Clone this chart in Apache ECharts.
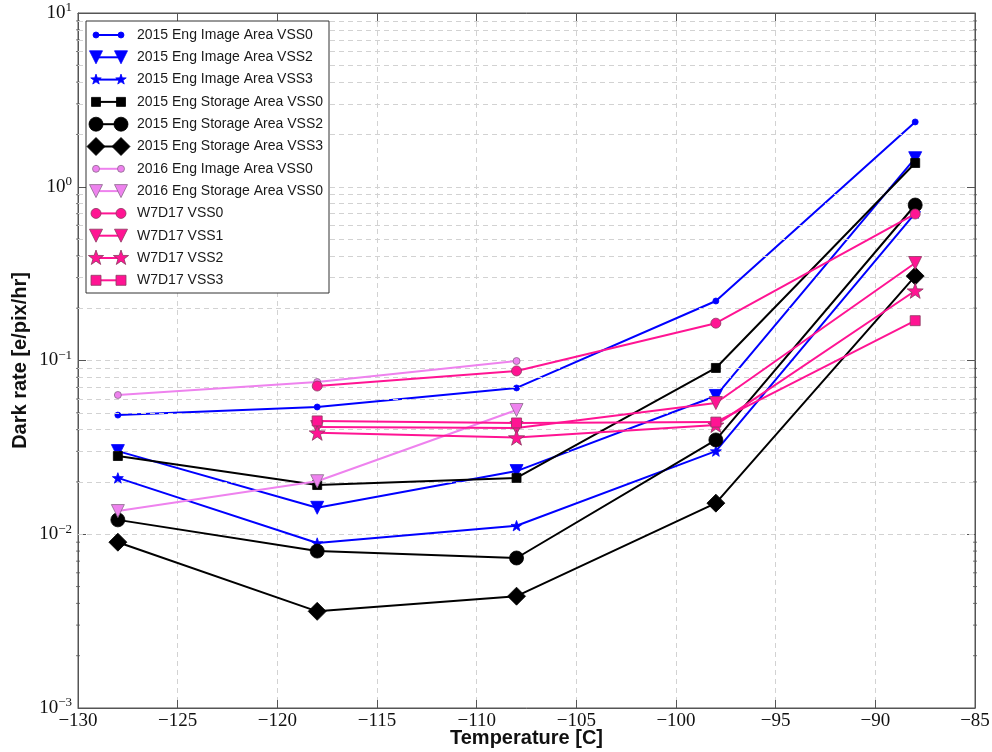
<!DOCTYPE html>
<html>
<head>
<meta charset="utf-8">
<script src="https://cdn.jsdelivr.net/npm/echarts@6/dist/echarts.min.js"></script>
<style>html,body{margin:0;padding:0;background:#fff}#main{width:992px;height:752px}</style>
</head>
<body>
<div id="main"></div>
<script>
// temperatures [C]
const temps = [-128, -118, -108, -98, -88];

// dark rate [e/pix/hr], null where not measured
const img15vss0 = [0.0485, 0.054, 0.0695, 0.22, 2.36];
const img15vss2 = [0.0301, 0.0142, 0.0231, 0.0625, 1.46];
const img15vss3 = [0.0211, 0.0089, 0.0112, 0.0301, 0.706];
const sto15vss0 = [0.0282, 0.0192, 0.0211, 0.0906, 1.37];
const sto15vss2 = [0.0121, 0.0080, 0.0073, 0.0349, 0.785];
const sto15vss3 = [0.0090, 0.0036, 0.0044, 0.0151, 0.306];
const img16vss0 = [0.0633, 0.0752, 0.0993, null, null];
const sto16vss0 = [0.0136, 0.0202, 0.0519, null, null];
const w7vss0 = [null, 0.0713, 0.0871, 0.164, 0.697];
const w7vss1 = [null, 0.0414, 0.0409, 0.0569, 0.364];
const w7vss2 = [null, 0.0384, 0.0360, 0.0426, 0.252];
const w7vss3 = [null, 0.0449, 0.0437, 0.0442, 0.1695];

const seriesNames = [
  '2015 Eng Image Area VSS0', '2015 Eng Image Area VSS2', '2015 Eng Image Area VSS3',
  '2015 Eng Storage Area VSS0', '2015 Eng Storage Area VSS2', '2015 Eng Storage Area VSS3',
  '2016 Eng Image Area VSS0', '2016 Eng Storage Area VSS0',
  'W7D17 VSS0', 'W7D17 VSS1', 'W7D17 VSS2', 'W7D17 VSS3'
];
const seriesValues = [img15vss0, img15vss2, img15vss3, sto15vss0, sto15vss2, sto15vss3,
  img16vss0, sto16vss0, w7vss0, w7vss1, w7vss2, w7vss3];

// axis ranges and minor log ticks
const xMin = -130, xMax = -85, xStep = 5;
const yMin = 0.001, yMax = 10;
const yMinor = [0.002, 0.003, 0.004, 0.005, 0.006, 0.007, 0.008, 0.009,
  0.02, 0.03, 0.04, 0.05, 0.06, 0.07, 0.08, 0.09,
  0.2, 0.3, 0.4, 0.5, 0.6, 0.7, 0.8, 0.9,
  2, 3, 4, 5, 6, 7, 8, 9];

// styling per series
const BLUE = '#0000ff', BLACK = '#000000', VIOLET = '#ee82ee', PINK = '#ff1493';
const styles = [
  { color: BLUE, sym: 'circle', size: 6, edge: BLUE },
  { color: BLUE, sym: 'down', size: 13, edge: BLUE },
  { color: BLUE, sym: 'star', size: 11, edge: BLUE },
  { color: BLACK, sym: 'square', size: 9, edge: BLACK },
  { color: BLACK, sym: 'circle', size: 14, edge: BLACK },
  { color: BLACK, sym: 'diamond', size: 18, edge: BLACK },
  { color: VIOLET, sym: 'circle', size: 7, edge: '#8a6a8a' },
  { color: VIOLET, sym: 'down', size: 13, edge: '#8a6a8a' },
  { color: PINK, sym: 'circle', size: 10, edge: '#8a3a60' },
  { color: PINK, sym: 'down', size: 13, edge: '#8a3a60' },
  { color: PINK, sym: 'star', size: 16, edge: '#8a3a60' },
  { color: PINK, sym: 'square', size: 10, edge: '#8a3a60' }
];

function starPoints(cx, cy, R) {
  const pts = [];
  for (let k = 0; k < 10; k++) {
    const r = k % 2 === 0 ? R : R * 0.4;
    const a = -Math.PI / 2 + k * Math.PI / 5;
    pts.push([cx + r * Math.cos(a), cy + r * Math.sin(a)]);
  }
  return pts;
}
const starPath = 'path://' + starPoints(50, 50, 50)
  .map((p, i) => (i ? 'L' : 'M') + p[0].toFixed(2) + ',' + p[1].toFixed(2)).join(' ') + ' Z';

function echartsSymbol(s) {
  if (s.sym === 'down') return { symbol: 'triangle', symbolRotate: 180 };
  if (s.sym === 'star') return { symbol: starPath, symbolKeepAspect: true };
  if (s.sym === 'square') return { symbol: 'rect' };
  if (s.sym === 'diamond') return { symbol: 'diamond' };
  return { symbol: 'circle' };
}

function legendMarker(s, cx, cy) {
  const h = s.size / 2;
  const style = { fill: s.color, stroke: s.edge, lineWidth: 0.8 };
  let el;
  if (s.sym === 'circle') el = { type: 'circle', shape: { cx: cx, cy: cy, r: h } };
  else if (s.sym === 'square') el = { type: 'rect', shape: { x: cx - h, y: cy - h, width: s.size, height: s.size } };
  else if (s.sym === 'down') el = { type: 'polygon', shape: { points: [[cx - h, cy - h], [cx + h, cy - h], [cx, cy + h]] } };
  else if (s.sym === 'diamond') el = { type: 'polygon', shape: { points: [[cx, cy - h], [cx + h, cy], [cx, cy + h], [cx - h, cy]] } };
  else el = { type: 'polygon', shape: { points: starPoints(cx, cy, h) } };
  el.style = style;
  el.z = 102;
  return el;
}

const serif = 'Liberation Serif';
const sans = 'Liberation Sans';
const dashGrid = { color: '#d2d2d2', type: [5, 4], width: 1 };
const frame = '#555555';

const series = seriesNames.map((name, i) => {
  const s = styles[i];
  return Object.assign({
    type: 'line',
    name: name,
    data: temps.map((t, j) => [t, seriesValues[i][j]]).filter(p => p[1] != null),
    symbolSize: s.size,
    lineStyle: { color: s.color, width: 2 },
    itemStyle: { color: s.color, borderColor: s.edge, borderWidth: 0.8 },
    z: 3 + i,
    silent: true,
    animation: false
  }, echartsSymbol(s));
});

// minor log ticks (left and right) plus minor dashed grid lines
series.unshift({
  type: 'scatter',
  name: 'minor',
  data: yMinor.map(v => [xMin, v]).concat(yMinor.map(v => [xMax, v])),
  symbol: 'rect',
  symbolSize: [4, 1],
  itemStyle: { color: frame },
  z: 2,
  silent: true,
  animation: false,
  markLine: {
    silent: true,
    symbol: 'none',
    label: { show: false },
    lineStyle: dashGrid,
    data: yMinor.map(v => ({ yAxis: v }))
  }
});

// legend drawn from the series styles
const legX = 86, legY = 21, rowH = 22.3;
const legendEls = [{
  type: 'rect', z: 100,
  shape: { x: legX, y: legY, width: 243, height: 272 },
  style: { fill: '#fff', stroke: '#333', lineWidth: 1 }
}];
seriesNames.forEach((name, i) => {
  const s = styles[i];
  const cy = legY + 14 + i * rowH;
  legendEls.push({ type: 'line', z: 101, shape: { x1: 96, y1: cy, x2: 121, y2: cy }, style: { stroke: s.color, lineWidth: 2 } });
  legendEls.push(legendMarker(s, 96, cy));
  legendEls.push(legendMarker(s, 121, cy));
  legendEls.push({ type: 'text', z: 101, style: { x: 137, y: cy, text: name, fill: '#1a1a1a', font: '14px ' + sans, textVerticalAlign: 'middle' } });
});

const supFmt = v => {
  const e = Math.round(Math.log10(v));
  return '{b|10}{s|' + (e < 0 ? '\u2212' + (-e) : e) + '}';
};

const option = {
  animation: false,
  backgroundColor: '#fff',
  grid: { left: 78, right: 17, top: 13, bottom: 44, show: true, borderColor: frame, borderWidth: 1,
    outerBoundsMode: 'none', containLabel: false },
  xAxis: [{
    type: 'value', min: xMin, max: xMax, interval: xStep,
    name: 'Temperature [C]', nameLocation: 'middle', nameGap: 20, nameMoveOverlap: false,
    nameTextStyle: { fontFamily: sans, fontWeight: 'bold', fontSize: 20, color: '#111' },
    axisLine: { lineStyle: { color: frame } },
    axisTick: { inside: true, length: 8, lineStyle: { color: frame } },
    axisLabel: { fontFamily: serif, fontSize: 19, color: '#111', margin: 4,
      formatter: v => (v < 0 ? '\u2212' + (-v) : '' + v) },
    splitLine: { show: true, lineStyle: dashGrid }
  }, {
    type: 'value', min: xMin, max: xMax, interval: xStep, position: 'top',
    axisLine: { lineStyle: { color: frame } },
    axisTick: { inside: true, length: 8, lineStyle: { color: frame } },
    axisLabel: { show: false }, splitLine: { show: false }
  }],
  yAxis: [{
    type: 'log', logBase: 10, min: yMin, max: yMax,
    name: 'Dark rate [e/pix/hr]', nameLocation: 'middle', nameGap: 48, nameMoveOverlap: false,
    nameTextStyle: { fontFamily: sans, fontWeight: 'bold', fontSize: 20, color: '#111' },
    axisLine: { lineStyle: { color: frame } },
    axisTick: { inside: true, length: 8, lineStyle: { color: frame } },
    axisLabel: { margin: 6, formatter: supFmt,
      rich: { b: { fontFamily: serif, fontSize: 19, color: '#111' },
              s: { fontFamily: serif, fontSize: 13, color: '#111', padding: [0, 0, 10, 0] } } },
    splitLine: { show: true, lineStyle: dashGrid }
  }, {
    type: 'log', logBase: 10, min: yMin, max: yMax, position: 'right',
    axisLine: { lineStyle: { color: frame } },
    axisTick: { inside: true, length: 8, lineStyle: { color: frame } },
    axisLabel: { show: false }, splitLine: { show: false }
  }],
  graphic: legendEls,
  series: series
};

const chart = echarts.init(document.getElementById('main'));
chart.setOption(option);
</script>
</body>
</html>
